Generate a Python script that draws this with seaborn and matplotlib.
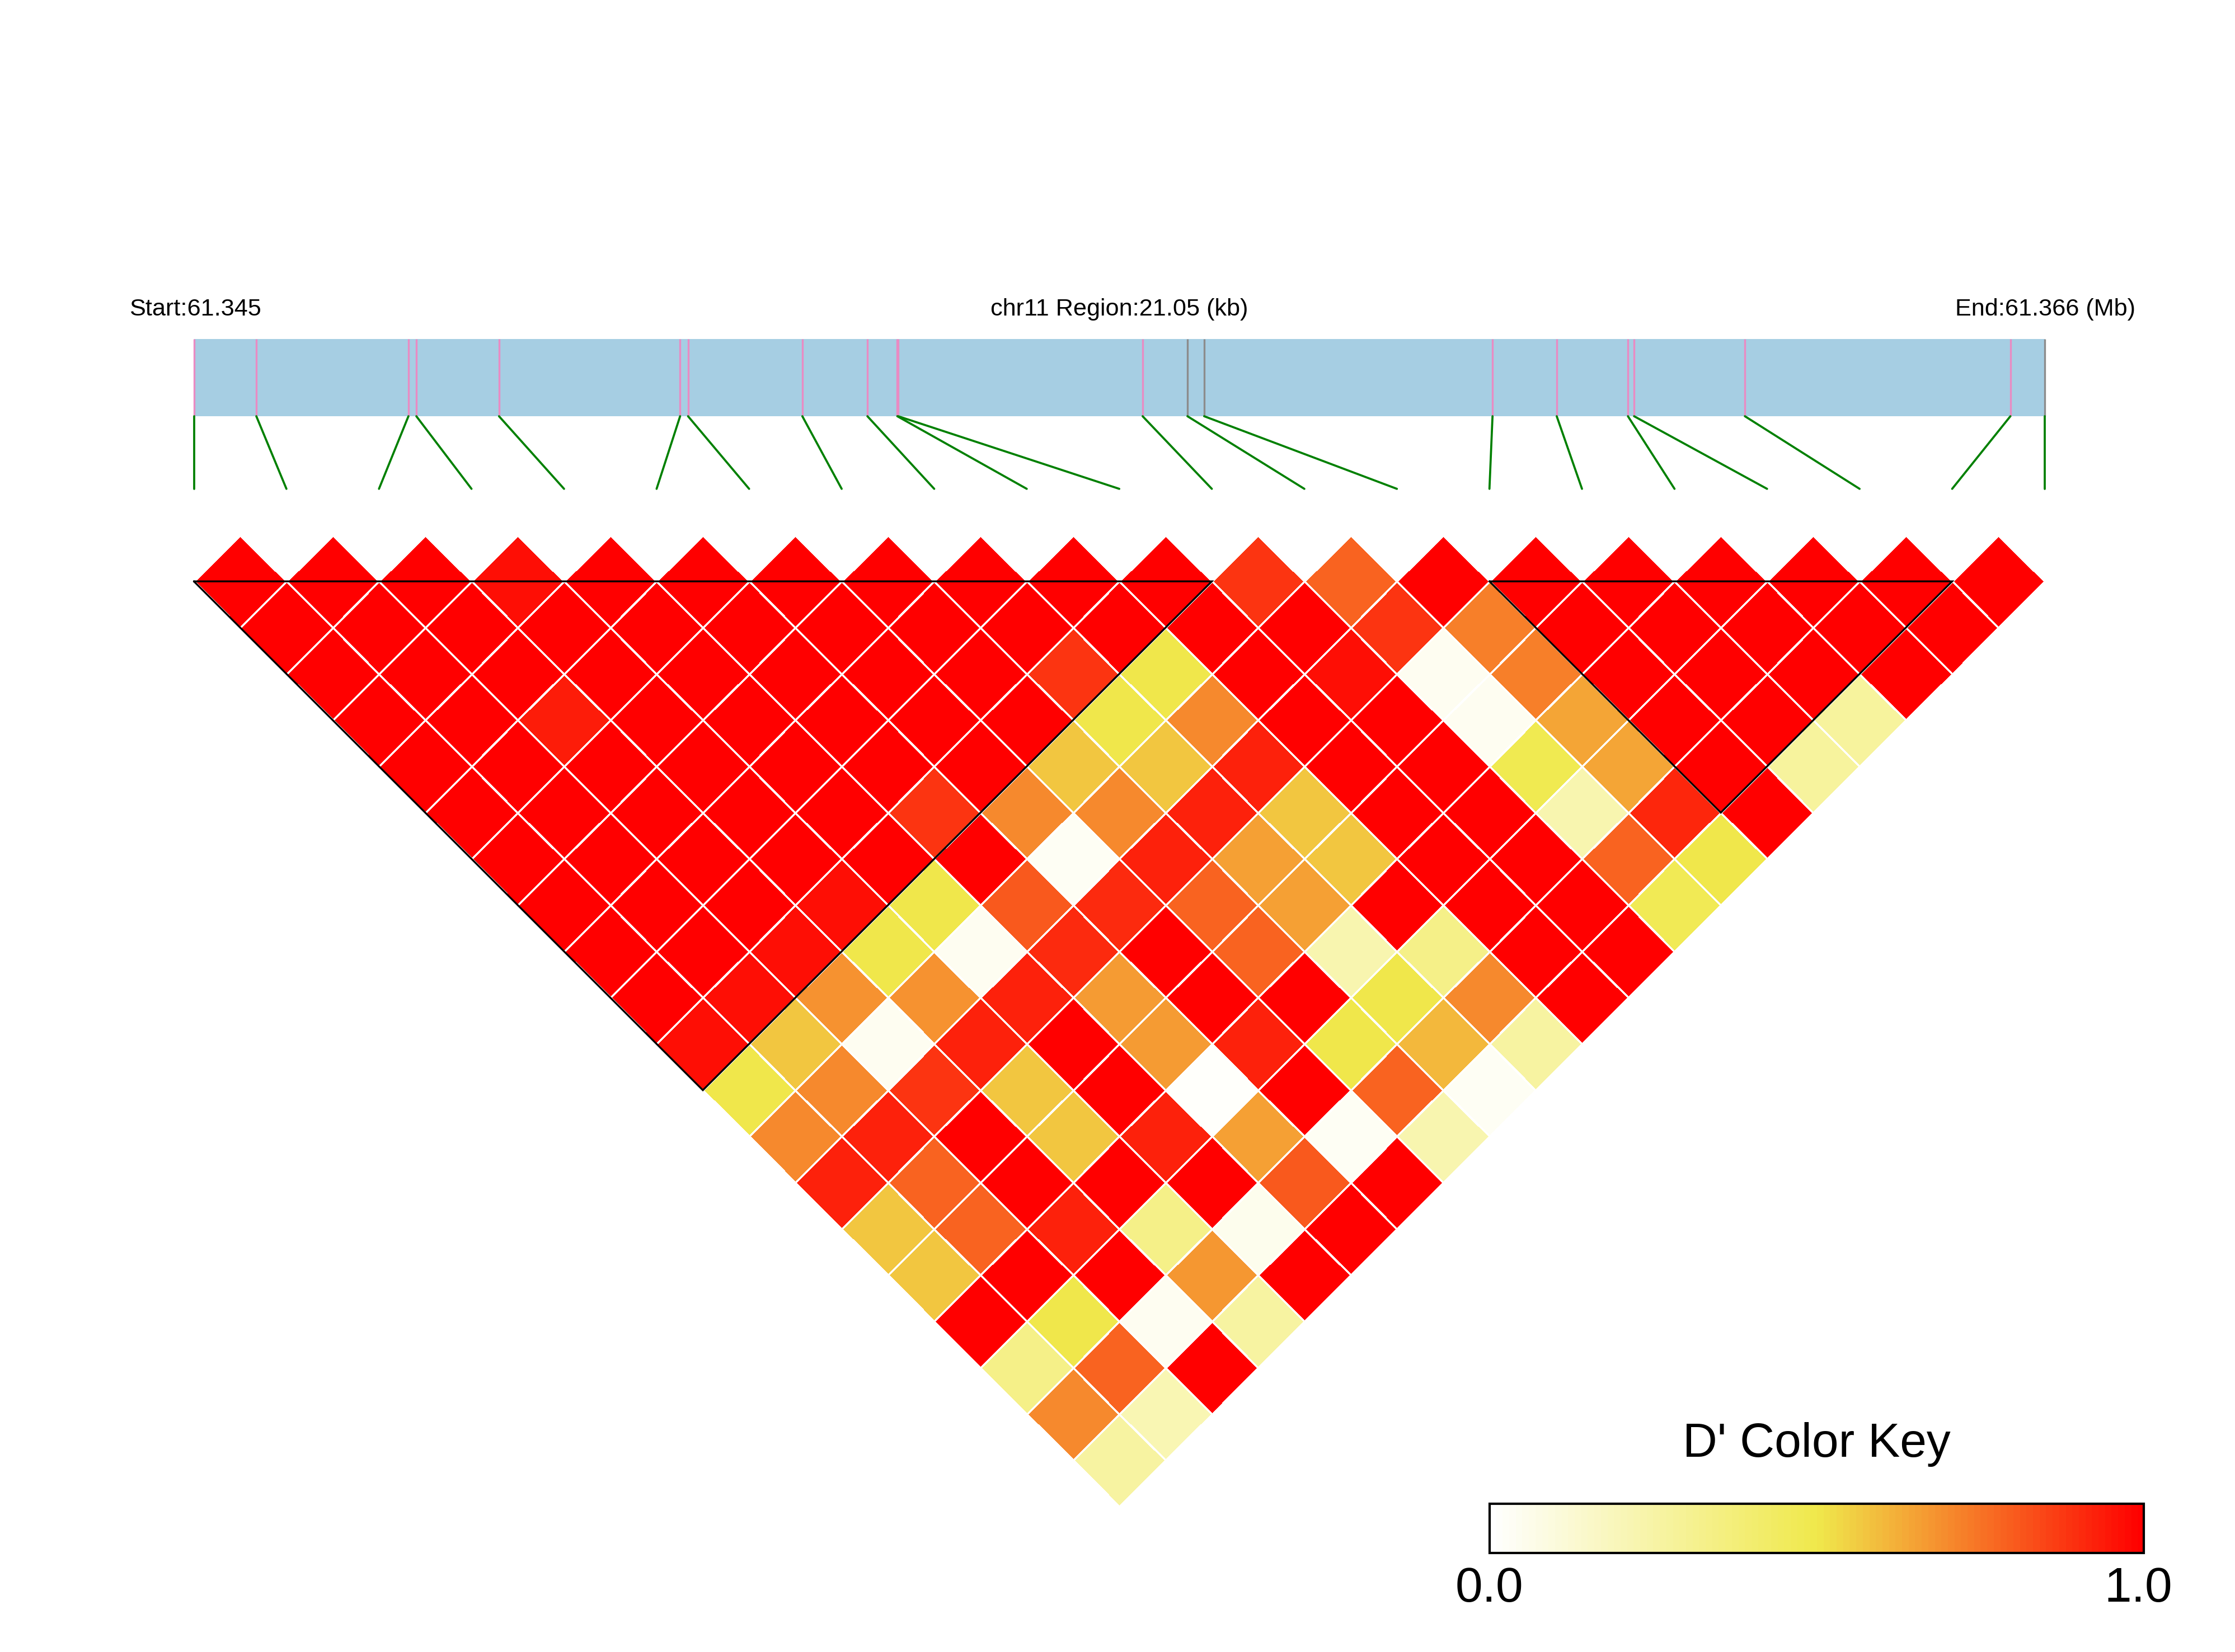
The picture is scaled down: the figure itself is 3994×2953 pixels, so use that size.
import numpy as np
import matplotlib
matplotlib.use("Agg")
import matplotlib.pyplot as plt
from matplotlib.colors import LinearSegmentedColormap
from matplotlib.transforms import Affine2D
from matplotlib.patches import Rectangle
import seaborn as sns

# region info
chrom = "chr11"
start_mb = 61.345
region_kb = 21.05

# SNP positions (kb from region start) and which ones get a grey tick
snp_pos_kb = [0.0, 0.71, 2.44, 2.53, 3.47, 5.53, 5.62, 6.92, 7.66, 8.00, 8.01,
              10.79, 11.30, 11.49, 14.77, 15.50, 16.31, 16.38, 17.64, 20.66, 21.05]
snp_flag = [0, 0, 0, 0, 0, 0, 0, 0, 0, 0, 0, 0, 1, 1, 0, 0, 0, 0, 0, 0, 1]

# pairwise D' (row i holds SNP i vs SNP i+1 .. last)
dprime_rows = [
    [1, 1, 1, 1, 1, 1, 1, 1, 1, 1, 0.96, 0.5, 0.7, 0.92, 0.58, 0.58, 1, 0.33, 0.7, 0.26],
    [1, 1, 1, 1, 1, 1, 1, 1, 1, 0.96, 0.58, 0.7, 0.92, 0.78, 0.78, 1, 0.5, 0.78, 0.21],
    [1, 1, 1, 0.93, 1, 1, 1, 1, 0.96, 0.68, 0.04, 0.88, 1, 1, 0.92, 1, 0.04, 1],
    [0.96, 1, 1, 1, 1, 1, 1, 0.96, 0.5, 0.68, 0.92, 0.58, 0.58, 1, 0.33, 0.67, 0.26],
    [1, 1, 1, 1, 1, 1, 1, 0.5, 0.04, 0.92, 1, 1, 0.92, 1, 0.05, 1],
    [1, 1, 1, 1, 1, 0.88, 1, 0.8, 0.9, 0.66, 0.66, 0.01, 0.65, 0.8, 1],
    [1, 1, 1, 1, 1, 0.7, 0.03, 0.9, 1, 1, 0.92, 1, 0.03, 1],
    [1, 1, 1, 1, 0.58, 0.7, 0.92, 0.78, 0.78, 1, 0.5, 0.78, 0.22],
    [1, 1, 0.88, 0.5, 0.58, 0.92, 0.65, 0.65, 0.22, 0.5, 0.6, 0.03],
    [1, 1, 0.5, 0.7, 0.92, 0.58, 0.58, 1, 0.33, 0.7, 0.26],
    [1, 1, 1, 1, 1, 1, 1, 1, 1, 1],
    [0.88, 1, 0.96, 1, 1, 1, 1, 1, 1],
    [0.78, 0.88, 0.04, 0.04, 0.48, 0.22, 0.78, 0.47],
    [1, 0.72, 0.72, 0.64, 0.64, 0.91, 0.5],
    [1, 1, 1, 1, 1, 1],
    [1, 1, 1, 1, 0.27],
    [1, 1, 1, 0.27],
    [1, 1, 1],
    [1, 1],
    [1],
]

# haplotype blocks (first SNP, last SNP)
blocks = [(0, 11), (14, 19)]
key_ticks = ["0.0", "1.0"]

n = len(snp_pos_kb)
mat = np.full((n, n), np.nan)
for i, row in enumerate(dprime_rows):
    mat[i, i + 1:] = row
mask = ~np.triu(np.ones((n, n), dtype=bool), 1)

sns.set_theme(style="white")
plt.rcParams["font.family"] = ["Liberation Sans", "DejaVu Sans"]
plt.rcParams["text.color"] = "black"

cmap = LinearSegmentedColormap.from_list("dprime", ["#FFFFFF", "#F0E94C", "#FF0000"], N=100)

W, H = 3994, 2953
fig = plt.figure(figsize=(W / 300, H / 300), dpi=300)
ax = fig.add_axes([0, 0, 1, 1])

sns.heatmap(mat, mask=mask, cmap=cmap, vmin=0, vmax=1, cbar=False,
            linewidths=0.6, linecolor="white", ax=ax)
# turn the square heatmap 45 degrees: cell (i, j) -> centre ((i+j)/2, (j-i)/2)
mesh = ax.collections[0]
rot = Affine2D(np.array([[0.5, 0.5, -0.5], [0.5, -0.5, 0.0], [0.0, 0.0, 1.0]]))
mesh.set_transform(rot + ax.transData)

# block outlines
for a, b in blocks:
    ax.plot([a, b, (a + b) / 2, a], [0.5, 0.5, 0.5 + (b - a) / 2, 0.5],
            color="black", lw=0.8, zorder=4, solid_joinstyle="miter")

# genomic bar on top
u_gen = np.array(snp_pos_kb) / region_kb * (n - 1)
bar_top, bar_bot = -2.12, -1.285
ax.add_patch(Rectangle((0, bar_top), n - 1, bar_bot - bar_top, facecolor="#A6CEE3",
                       edgecolor="none", zorder=3))
tick_cols = ["#8C8C8C" if f else "#E98BC3" for f in snp_flag]
ax.vlines(u_gen, bar_top, bar_bot, colors=tick_cols, lw=0.8, zorder=4)
for k in range(n):
    ax.plot([u_gen[k], k], [bar_bot, -0.5], color="green", lw=0.9, zorder=4)

ax.text(-0.70, -2.373, f"Start:{start_mb:.3f}", ha="left", va="baseline", fontsize=10.4, zorder=5)
ax.text((n - 1) / 2, -2.373, f"{chrom} Region:{region_kb:.2f} (kb)", ha="center",
        va="baseline", fontsize=10.4, zorder=5)
ax.text(20.98, -2.373, f"End:{start_mb + region_kb / 1000:.3f} (Mb)", ha="right",
        va="baseline", fontsize=10.4, zorder=5)

# colour key
kx0, kx1, ky0, ky1 = 14.0, 21.07, 10.47, 11.0
ax.imshow(np.linspace(0, 1, 100)[None, :], cmap=cmap, vmin=0, vmax=1,
          extent=(kx0, kx1, ky1, ky0), aspect="auto", interpolation="nearest", zorder=3)
ax.add_patch(Rectangle((kx0, ky0), kx1 - kx0, ky1 - ky0, fill=False,
                       edgecolor="black", lw=1.0, zorder=4))
ax.text((kx0 + kx1) / 2, 9.963, "D' Color Key", ha="center", va="baseline", fontsize=20.6)
ax.text(kx0, 11.527, key_ticks[0], ha="center", va="baseline", fontsize=21)
ax.text(21.01, 11.527, key_ticks[1], ha="center", va="baseline", fontsize=21)

scale = 165.37
x0, v0 = 346.5, 956.5
ax.set_xlim(-x0 / scale, (W - x0) / scale)
ax.set_ylim((H - v0) / scale, -v0 / scale)
ax.set_axis_off()

fig.savefig("out.png", dpi=300)
